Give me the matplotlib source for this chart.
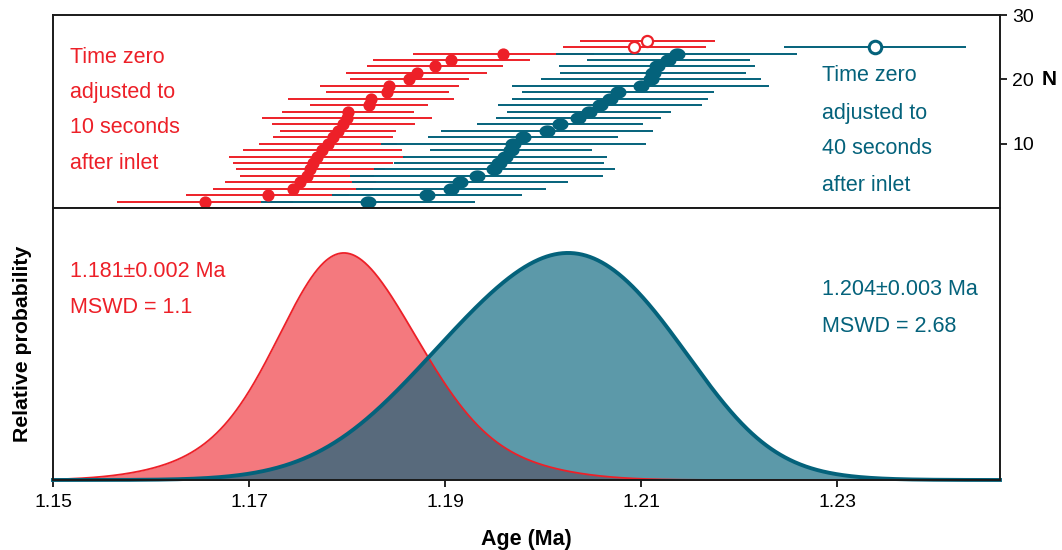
import numpy as np
import matplotlib
matplotlib.use("Agg")
import matplotlib.pyplot as plt
from matplotlib.path import Path

plt.rcParams['font.family'] = ['Liberation Sans', 'DejaVu Sans']

RED = '#ed2028'
TEAL = '#04627b'

# ages (Ma) and half-length of error bars (Ma), rows N = 1, 2, ...
red_age = [1.16551, 1.17191, 1.17449, 1.17520, 1.17592, 1.17622, 1.17653, 1.17694,
           1.17745, 1.17806, 1.17857, 1.17908, 1.17959, 1.18000, 1.18010, 1.18224,
           1.18245, 1.18411, 1.18432, 1.18636, 1.18711, 1.18898, 1.19061, 1.19595]
red_err = [0.0090, 0.0083, 0.0082, 0.0077, 0.0068, 0.0076, 0.0082, 0.0090,
           0.0081, 0.0070, 0.0061, 0.0059, 0.0073, 0.0087, 0.0067, 0.0060,
           0.0085, 0.0063, 0.0071, 0.0061, 0.0072, 0.0069, 0.0080, 0.0092]
red_out_age = [1.20929, 1.21064]
red_out_err = [0.0073, 0.0069]

teal_age = [1.18211, 1.18813, 1.19061, 1.19153, 1.19323, 1.19500, 1.19551, 1.19612,
            1.19673, 1.19694, 1.19796, 1.20038, 1.20173, 1.20360, 1.20469, 1.20582,
            1.20684, 1.20765, 1.20995, 1.21097, 1.21122, 1.21163, 1.21276, 1.21364]
teal_err = [0.0109, 0.0097, 0.0097, 0.0110, 0.0129, 0.0123, 0.0107, 0.0104,
            0.0083, 0.0135, 0.0097, 0.0108, 0.0085, 0.0084, 0.0084, 0.0104,
            0.0100, 0.0098, 0.0131, 0.0112, 0.0095, 0.0100, 0.0083, 0.0123]
teal_out_age = [1.23388]
teal_out_err = [0.0093]

red_note = ["Time zero", "adjusted to", "10 seconds", "after inlet"]
teal_note = ["Time zero", "adjusted to", "40 seconds", "after inlet"]
red_stats = ["1.181\u00b10.002 Ma", "MSWD = 1.1"]
teal_stats = ["1.204\u00b10.003 Ma", "MSWD = 2.68"]

x_ticks = [1.15, 1.17, 1.19, 1.21, 1.23]
n_ticks = [10, 20, 30]
x_min, x_max = 1.15, 1.2466


def prob_curve(ages, errs, x):
    # summed probability of the individual ages
    a = np.asarray(ages)[:, None]
    s = np.asarray(errs)[:, None] / 1.4
    d = (np.exp(-0.5 * ((x - a) / s) ** 2) / s).sum(axis=0)
    return d / d.max()


t = np.linspace(0, 2 * np.pi, 60)
ellipse = Path(np.column_stack([1.3 * np.cos(t), np.sin(t)]), closed=True)

fig = plt.figure(figsize=(10.62, 5.5), dpi=100)
ax_top = fig.add_axes([53 / 1062, 1 - 208 / 550, 947 / 1062, 193 / 550])
ax_bot = fig.add_axes([53 / 1062, 1 - 480 / 550, 947 / 1062, 272 / 550])

# ---- top panel: individual ages ----
n_red = np.arange(1, len(red_age) + 1)
n_red_out = np.arange(len(red_age) + 1, len(red_age) + 1 + len(red_out_age))
n_teal = np.arange(1, len(teal_age) + 1)
n_teal_out = np.arange(len(teal_age) + 1, len(teal_age) + 1 + len(teal_out_age))

ax_top.errorbar(red_age, n_red, xerr=red_err, fmt='none', ecolor=RED, elinewidth=1.4)
ax_top.errorbar(red_out_age, n_red_out, xerr=red_out_err, fmt='none', ecolor=RED, elinewidth=1.4)
ax_top.errorbar(teal_age, n_teal, xerr=teal_err, fmt='none', ecolor=TEAL, elinewidth=1.4)
ax_top.errorbar(teal_out_age, n_teal_out, xerr=teal_out_err, fmt='none', ecolor=TEAL, elinewidth=1.4)
ax_top.plot(red_age, n_red, 'o', color=RED, ms=8.8, mec='none', zorder=3)
ax_top.plot(red_out_age, n_red_out, 'o', mfc='white', mec=RED, mew=1.6, ms=8, zorder=3)
ax_top.plot(teal_age, n_teal, ls='none', marker=ellipse, color=TEAL, ms=11.5, mec='none', zorder=4)
ax_top.plot(teal_out_age, n_teal_out, 'o', mfc='white', mec=TEAL, mew=2.2, ms=9, zorder=4)

ax_top.set_xlim(x_min, x_max)
ax_top.set_ylim(0, 30)
ax_top.set_xticks([])
ax_top.yaxis.tick_right()
ax_top.set_yticks(n_ticks)
ax_top.tick_params(axis='y', labelsize=14, length=5, width=1.2, pad=4)
ax_top.text(1.044, 20, "N", transform=ax_top.get_yaxis_transform(), fontsize=15,
            fontweight='bold', ha='left', va='center')

for i, line in enumerate(red_note):
    ax_top.text(0.018, [0.782, 0.601, 0.415, 0.228][i], line, color=RED, fontsize=15.5,
                transform=ax_top.transAxes, va='center')
for i, line in enumerate(teal_note):
    ax_top.text(0.812, [0.684, 0.492, 0.306, 0.119][i], line, color=TEAL, fontsize=15.5,
                transform=ax_top.transAxes, va='center')

# ---- bottom panel: probability curves ----
x = np.linspace(x_min, x_max, 1200)
red_p = prob_curve(red_age, red_err, x)
teal_p = prob_curve(teal_age, teal_err, x)

ax_bot.fill_between(x, 0, red_p, color=RED, alpha=0.6, lw=0)
ax_bot.plot(x, red_p, color=RED, lw=1.3, clip_on=False)
ax_bot.fill_between(x, 0, teal_p, color=TEAL, alpha=0.65, lw=0)
ax_bot.plot(x, teal_p, color=TEAL, lw=2.8, clip_on=False)

ax_bot.set_xlim(x_min, x_max)
ax_bot.set_ylim(0, 1.198)
ax_bot.set_yticks([])
ax_bot.set_xticks(x_ticks)
ax_bot.set_xticklabels([f"{v:.2f}" for v in x_ticks])
ax_bot.tick_params(axis='x', labelsize=14, length=5, width=1.2, pad=5)
ax_bot.set_xlabel("Age (Ma)", fontsize=15.5, fontweight='bold')
ax_bot.xaxis.set_label_coords(0.5, -0.18)
ax_bot.set_ylabel("Relative probability", fontsize=15.3, fontweight='bold')
ax_bot.yaxis.set_label_coords(-0.022, 0.5)

for i, line in enumerate(red_stats):
    ax_bot.text(0.018, [0.768, 0.636][i], line, color=RED, fontsize=15.5,
                transform=ax_bot.transAxes, va='center')
for i, line in enumerate(teal_stats):
    ax_bot.text(0.812, [0.699, 0.566][i], line, color=TEAL, fontsize=15.5,
                transform=ax_bot.transAxes, va='center')

for ax in (ax_top, ax_bot):
    for sp in ax.spines.values():
        sp.set_linewidth(1.4)
        sp.set_color('#1a1a1a')

fig.savefig("out.png", dpi=100)
